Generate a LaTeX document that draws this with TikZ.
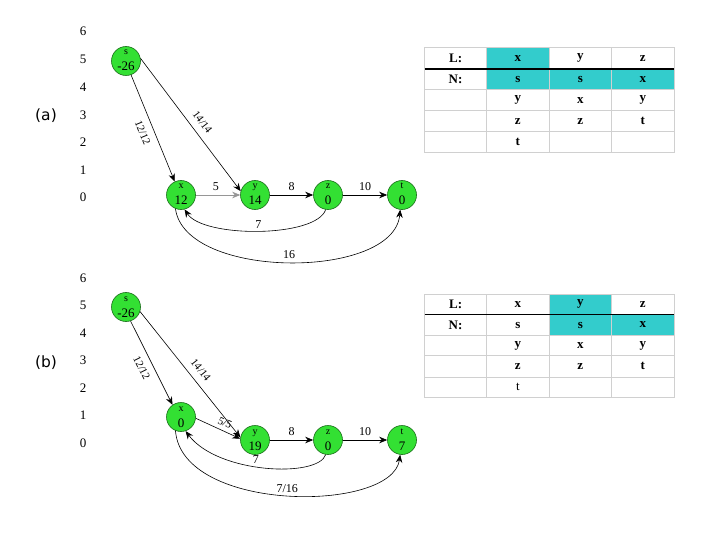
\documentclass[tikz,border=0pt]{standalone}
\usepackage{fontspec}
\setmainfont{Liberation Serif}
\newfontfamily\sansf{DejaVu Sans}
\usetikzlibrary{arrows.meta}
\definecolor{vgreen}{RGB}{51,224,51}
\definecolor{vborder}{RGB}{25,110,25}
\definecolor{hcyan}{RGB}{51,204,204}
\definecolor{tgrid}{RGB}{208,208,208}
\definecolor{edgegray}{RGB}{150,150,150}
\newcommand\vtxt[2]{\raisebox{6pt}[0pt][0pt]{\parbox[t]{26pt}{\centering\fontsize{10}{10}\selectfont\strut#1\\[3pt]\fontsize{13}{13}\selectfont\strut#2}}}
\begin{document}
\begin{tikzpicture}[x=1pt,y=-1pt,
  vtx/.style={circle,draw=vborder,fill=vgreen,line width=0.6pt,minimum size=29pt,inner sep=0pt},
  axisnum/.style={font=\fontsize{13}{13}\selectfont,inner sep=0pt},
  partlbl/.style={font=\sansf\fontsize{15.5}{15.5}\selectfont,inner sep=0pt},
  edge/.style={line width=0.6pt,-{Stealth[length=8pt,width=6.5pt]}},
  elbl/.style={font=\fontsize{12}{12}\selectfont,inner sep=1pt},
  slbl/.style={font=\fontsize{11}{11}\selectfont,inner sep=1pt,sloped},
  tcell/.style={font=\bfseries\fontsize{13}{13}\selectfont,inner sep=0pt},
  tcellr/.style={font=\fontsize{13}{13}\selectfont,inner sep=0pt},
  gridline/.style={draw=tgrid,line width=0.8pt},
  thickline/.style={draw=black,line width=1.6pt}
]
\useasboundingbox (0,0) rectangle (720,540);
\fill[white] (0,0) rectangle (720,540);

% ---------------- part labels and axes ----------------
\node[partlbl] (pa) at (46,116) {(a)};
\node[partlbl] (pb) at (46,363) {(b)};
\foreach \v/\yy in {6/31,5/59,4/87,3/115,2/142.5,1/170,0/197.5}
  \node[axisnum] (axa\v) at (83,\yy) {\v};
\foreach \v/\yy in {6/278,5/305.5,4/333,3/360.5,2/388,1/415.5,0/443}
  \node[axisnum] (axb\v) at (83,\yy) {\v};

% ---------------- graph (a) ----------------
\node[vtx] (sa) at (126,61) {\vtxt{s}{-26}};
\node[vtx] (xa) at (181,195) {\vtxt{x}{12}};
\node[vtx] (ya) at (255,195) {\vtxt{y}{14}};
\node[vtx] (za) at (328,195) {\vtxt{z}{0}};
\node[vtx] (ta) at (402,195) {\vtxt{t}{0}};

\draw[edge] (sa.-70) -- node[slbl,below=6pt,pos=0.5] {12/12} (xa.115);
\draw[edge] (sa.10) -- node[slbl,above=6pt,pos=0.53] {14/14} (ya.165);
\draw[edge,draw=edgegray] (xa.east) -- node[elbl,above=3pt,pos=0.45] {5} (ya.west);
\draw[edge] (ya.east) -- node[elbl,above=3pt] {8} (za.west);
\draw[edge] (za.east) -- node[elbl,above=3pt] {10} (ta.west);
\draw[edge] (za.-99) .. controls (316,238) and (203,238) .. node[elbl,above=1pt,pos=0.5] {7} (xa.-76);
\draw[edge] (xa.-112) .. controls (185,280) and (394,280) .. node[elbl,above=2pt,pos=0.5] {16} (ta.-97);

% ---------------- table (a) ----------------
\fill[hcyan] (486.7,47.3) rectangle (549,69);
\fill[hcyan] (486.7,69) rectangle (674,89.5);
\foreach \yy in {47.3,89.5,110.7,131.7,152.7}
  \draw[gridline] (424.5,\yy) -- (674,\yy);
\foreach \xx in {424.5,486.7,549,611.7,674}
  \draw[gridline] (\xx,47.3) -- (\xx,152.7);
\draw[thickline] (424.5,69) -- (674,69);
\node[tcell] (aL) at (455.6,58.2) {L:};
\node[tcell] (aL1) at (517.8,58.2) {x};
\node[tcell] (aL2) at (580.3,58.2) {y};
\node[tcell] (aL3) at (642.8,58.2) {z};
\node[tcell] (aN) at (455.6,79.3) {N:};
\node[tcell] (aN1) at (517.8,79.3) {s};
\node[tcell] (aN2) at (580.3,79.3) {s};
\node[tcell] (aN3) at (642.8,79.3) {x};
\node[tcell] (a31) at (517.8,100.1) {y};
\node[tcell] (a32) at (580.3,100.1) {x};
\node[tcell] (a33) at (642.8,100.1) {y};
\node[tcell] (a41) at (517.8,121.2) {z};
\node[tcell] (a42) at (580.3,121.2) {z};
\node[tcell] (a43) at (642.8,121.2) {t};
\node[tcell] (a51) at (517.8,142.2) {t};

% ---------------- graph (b) ----------------
\node[vtx] (sb) at (126,307) {\vtxt{s}{-26}};
\node[vtx] (xb) at (181,417) {\vtxt{x}{0}};
\node[vtx] (yb) at (255,440) {\vtxt{y}{19}};
\node[vtx] (zb) at (328,440) {\vtxt{z}{0}};
\node[vtx] (tb) at (402,440) {\vtxt{t}{7}};

\draw[edge] (sb.-72) -- node[slbl,below=6pt,pos=0.5] {12/12} (xb.125);
\draw[edge] (sb.-18) -- node[slbl,above=6pt,pos=0.52] {14/14} (yb.170);
\draw[edge] (xb.-5) -- node[slbl,above=3pt,pos=0.58] {5/5} (yb.175);
\draw[edge] (yb.east) -- node[elbl,above=3pt] {8} (zb.west);
\draw[edge] (zb.east) -- node[elbl,above=3pt] {10} (tb.west);
\draw[edge] (zb.-99) .. controls (318,478) and (218,474) .. node[elbl,above=2pt,pos=0.55] {7} (xb.-72);
\draw[edge] (xb.-112) .. controls (182,513) and (392,513) .. node[elbl,above=2pt,pos=0.5] {7/16} (tb.-97);

% ---------------- table (b) ----------------
\fill[hcyan] (549,294.3) rectangle (611.7,314.3);
\fill[hcyan] (549,314.3) rectangle (674,335.7);
\foreach \yy in {294.3,335.7,355.7,377,397.7}
  \draw[gridline] (424.5,\yy) -- (674,\yy);
\foreach \xx in {424.5,486.7,549,611.7,674}
  \draw[gridline] (\xx,294.3) -- (\xx,397.7);
\draw[thickline] (424.5,314.3) -- (674,314.3);
\node[tcell] (bL) at (455.6,304.3) {L:};
\node[tcell] (bL1) at (517.8,304.3) {x};
\node[tcell] (bL2) at (580.3,304.3) {y};
\node[tcell] (bL3) at (642.8,304.3) {z};
\node[tcell] (bN) at (455.6,325) {N:};
\node[tcell] (bN1) at (517.8,325) {s};
\node[tcell] (bN2) at (580.3,325) {s};
\node[tcell] (bN3) at (642.8,325) {x};
\node[tcell] (b31) at (517.8,345.7) {y};
\node[tcell] (b32) at (580.3,345.7) {x};
\node[tcell] (b33) at (642.8,345.7) {y};
\node[tcell] (b41) at (517.8,366.3) {z};
\node[tcell] (b42) at (580.3,366.3) {z};
\node[tcell] (b43) at (642.8,366.3) {t};
\node[tcellr] (b51) at (517.8,387.3) {t};
\end{tikzpicture}
\end{document}
